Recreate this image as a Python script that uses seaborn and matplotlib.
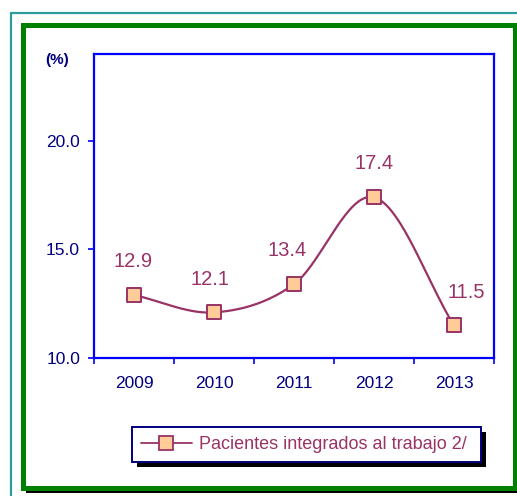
import numpy as np
import pandas as pd
import matplotlib
matplotlib.use("Agg")
import matplotlib.pyplot as plt
from matplotlib.patches import Rectangle
from matplotlib.lines import Line2D
import seaborn as sns

years = ["2009", "2010", "2011", "2012", "2013"]
values = [12.9, 12.1, 13.4, 17.4, 11.5]
series_name = "Pacientes integrados al trabajo 2/"
# label offsets in points (dx, dy), as placed in the original
label_offsets = [(-1, 24), (-3, 24), (-5, 24), (0, 24), (9, 24)]

LINE = "#993366"
FACE = "#FFCC99"
NAVY = "#000080"
BLUE = "#0000FF"

sns.set_style("white")
plt.rcParams["font.family"] = ["Liberation Sans", "DejaVu Sans"]

W, H = 517, 496
fig = plt.figure(figsize=(W / 100, H / 100), dpi=100)


def fx(px):
    return px / W


def fy(py):
    return 1 - py / H


# frame decorations (teal outer line, green box with black shadow)
fig.add_artist(Line2D([fx(10.5), fx(10.5)], [fy(12.5), fy(496)], transform=fig.transFigure,
                      color="#2E9C9C", lw=1.6, zorder=-10))
fig.add_artist(Line2D([fx(10.5), fx(517)], [fy(12.5), fy(12.5)], transform=fig.transFigure,
                      color="#2E9C9C", lw=1.6, zorder=-10))
fig.add_artist(Rectangle((fx(26), fy(493)), fx(517) - fx(26), fy(486) - fy(493),
                         transform=fig.transFigure, facecolor="black", edgecolor="none",
                         zorder=-10))
fig.add_artist(Rectangle((fx(22.5), fy(487.5)), fx(514.5) - fx(22.5), fy(24.5) - fy(487.5),
                         transform=fig.transFigure, facecolor="white", edgecolor="#008000",
                         lw=3.6, zorder=-9))

ax = fig.add_axes([fx(94), fy(358), fx(494) - fx(94), fy(54) - fy(358)])
ax.patch.set_alpha(0)

# smooth curve (Catmull-Rom through the points, like Excel smoothing)
xs = np.arange(len(values), dtype=float)
ys = np.array(values, dtype=float)
px = np.concatenate([[2 * xs[0] - xs[1]], xs, [2 * xs[-1] - xs[-2]]])
py = np.concatenate([[2 * ys[0] - ys[1]], ys, [2 * ys[-1] - ys[-2]]])
cx, cy = [], []
t = np.linspace(0, 1, 40)
for i in range(1, len(px) - 2):
    for arr, out in ((px, cx), (py, cy)):
        p0, p1, p2, p3 = arr[i - 1], arr[i], arr[i + 1], arr[i + 2]
        out.extend(0.5 * (2 * p1 + (-p0 + p2) * t + (2 * p0 - 5 * p1 + 4 * p2 - p3) * t ** 2
                          + (-p0 + 3 * p1 - 3 * p2 + p3) * t ** 3))
curve = pd.DataFrame({"x": cx, "y": cy})
pts = pd.DataFrame({"x": xs, "y": ys})

sns.lineplot(data=curve, x="x", y="y", ax=ax, color=LINE, lw=1.6, sort=False, estimator=None)
sns.scatterplot(data=pts, x="x", y="y", ax=ax, marker="s", s=90, color=FACE,
                edgecolor=LINE, linewidth=1.4, zorder=5)

for x, v, off in zip(xs, values, label_offsets):
    ax.annotate(f"{v:.1f}", (x, v), xytext=off, textcoords="offset points",
                ha="center", va="center", color=LINE, fontsize=14.5)

ax.set_xlim(-0.5, len(years) - 0.5)
ax.set_ylim(10, 24)
ax.set_xticks(xs)
ax.set_xticklabels(years)
ax.set_xticks(np.arange(-0.5, len(years), 1.0), minor=True)
ax.set_yticks([10, 15, 20])
ax.set_yticklabels(["10.0", "15.0", "20.0"])
ax.tick_params(axis="x", which="major", length=0, pad=13, labelsize=12.5, labelcolor=NAVY)
ax.tick_params(axis="x", which="minor", length=4, width=1.2, color=BLUE, direction="out",
               bottom=True)
ax.tick_params(axis="y", length=4, width=1.2, color=BLUE, direction="out", left=True,
               pad=6, labelsize=12.5, labelcolor=NAVY)
ax.set_xlabel("")
ax.set_ylabel("")
for sp in ax.spines.values():
    sp.set_color(BLUE)
    sp.set_linewidth(1.6)
    sp.set_visible(True)

fig.text(fx(57), fy(60), "(%)", ha="center", va="center", fontsize=11,
         fontweight="bold", color=NAVY)

handle = Line2D([], [], color=LINE, lw=1.3, marker="s", markersize=10,
                markerfacecolor=FACE, markeredgecolor=LINE, markeredgewidth=1.3)
leg = fig.legend([handle], [series_name + " "], loc="upper left",
                 bbox_to_anchor=(fx(132), fy(427)), frameon=True, fancybox=False,
                 framealpha=1, fontsize=13, handlelength=2.8, borderpad=0.5,
                 handletextpad=0.4, borderaxespad=0)
leg.get_frame().set_edgecolor(NAVY)
leg.get_frame().set_linewidth(1.4)
for txt in leg.get_texts():
    txt.set_color(LINE)
leg.set_zorder(10)

fig.canvas.draw()
bb = leg.get_window_extent()
fig.add_artist(Rectangle((bb.x0 + 5, bb.y0 - 5), bb.width, bb.height, transform=None,
                         facecolor="black", edgecolor="none", zorder=9))

fig.savefig("out.png", dpi=100)
